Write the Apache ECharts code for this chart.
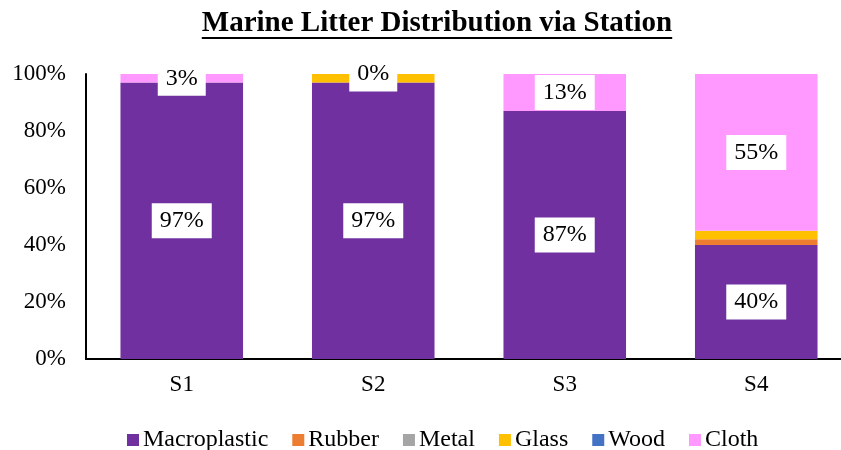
<!DOCTYPE html>
<html>
<head>
<meta charset="utf-8">
<script src="https://cdn.jsdelivr.net/npm/echarts@6/dist/echarts.min.js"></script>
<style>
  html, body { margin: 0; padding: 0; background: #fff; }
  #chart { width: 841px; height: 450px; }
</style>
</head>
<body>
<div id="chart"></div>
<script>
// Share of each litter type per station (percent)
const stations = ['S1', 'S2', 'S3', 'S4'];
const macroplastic = [97, 97, 87, 40];
const rubber = [0, 0, 0, 2];
const metal = [0, 0, 0, 0];
const glass = [0, 3, 0, 3];
const wood = [0, 0, 0, 0];
const cloth = [3, 0, 13, 55];
const yTicks = [0, 20, 40, 60, 80, 100];

const FONT = "'Liberation Serif', 'Times New Roman', serif";
const titleText = 'Marine Litter Distribution via Station';
const titleSize = 29;

// measure title so the underline spans the text exactly
const ctx = document.createElement('canvas').getContext('2d');
ctx.font = 'bold ' + titleSize + 'px ' + FONT;
const titleWidth = ctx.measureText(titleText).width;
const titleCenter = 437;

const boxLabel = {
  show: true,
  position: 'inside',
  formatter: p => p.value + '%',
  color: '#000',
  fontFamily: FONT,
  fontSize: 24,
  backgroundColor: '#fff',
  padding: [6, 8, 5, 8]
};

function seriesOf(name, data, color, withLabel) {
  return {
    name: name,
    type: 'bar',
    stack: 'total',
    data: data,
    barWidth: '64%',
    itemStyle: { color: color },
    label: withLabel ? boxLabel : { show: false },
    emphasis: { disabled: true }
  };
}

const chart = echarts.init(document.getElementById('chart'), null, { renderer: 'canvas' });
chart.setOption({
  animation: false,
  backgroundColor: '#fff',
  graphic: [
    {
      type: 'text',
      left: titleCenter - titleWidth / 2,
      top: 9,
      style: {
        text: titleText,
        font: 'bold ' + titleSize + 'px ' + FONT,
        fill: '#000'
      }
    },
    {
      type: 'rect',
      shape: { x: titleCenter - titleWidth / 2, y: 37, width: titleWidth, height: 2 },
      style: { fill: '#000' }
    }
  ],
  grid: { left: 86, top: 74, width: 766, height: 285, containLabel: false, outerBoundsMode: 'none' },
  legend: {
    top: 423,
    left: 122,
    itemWidth: 12,
    itemHeight: 12,
    itemGap: 24,
    icon: 'rect',
    textStyle: { fontFamily: FONT, fontSize: 24, color: '#000', padding: [0, 0, 0, -1] },
    data: ['Macroplastic', 'Rubber', 'Metal', 'Glass', 'Wood', 'Cloth']
  },
  xAxis: {
    type: 'category',
    data: stations,
    axisLine: { lineStyle: { color: '#000', width: 2 } },
    axisTick: { show: false },
    axisLabel: { fontFamily: FONT, fontSize: 23, color: '#000', margin: 14 }
  },
  yAxis: {
    type: 'value',
    min: yTicks[0],
    max: yTicks[yTicks.length - 1],
    interval: yTicks[1] - yTicks[0],
    axisLine: { show: true, lineStyle: { color: '#000', width: 2 } },
    axisTick: { show: false },
    splitLine: { show: false },
    axisLabel: { fontFamily: FONT, fontSize: 23, color: '#000', margin: 20, formatter: v => v + '%' }
  },
  series: [
    seriesOf('Macroplastic', macroplastic, '#7030A0', true),
    seriesOf('Rubber', rubber, '#ED7D31', false),
    seriesOf('Metal', metal, '#A5A5A5', false),
    seriesOf('Glass', glass, '#FFC000', false),
    seriesOf('Wood', wood, '#4472C4', false),
    seriesOf('Cloth', cloth, '#FF99FF', true)
  ]
});
</script>
</body>
</html>
